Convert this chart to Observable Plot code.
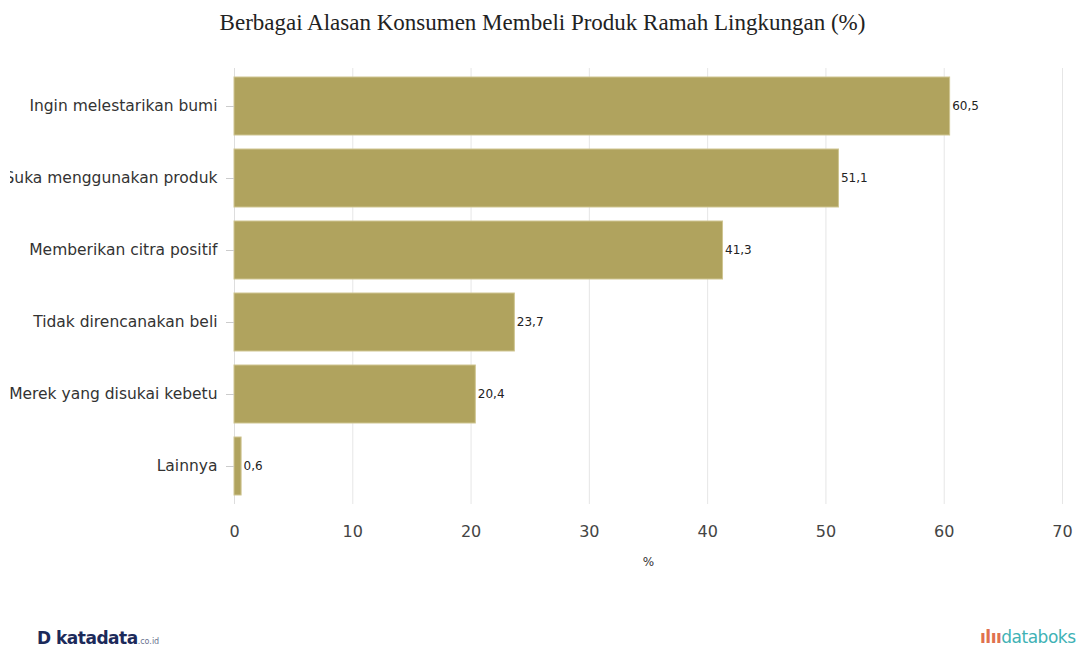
<!DOCTYPE html>
<html><head><meta charset="utf-8">
<script src="https://cdn.jsdelivr.net/npm/d3@7"></script>
<script src="https://cdn.jsdelivr.net/npm/@observablehq/plot@0.6"></script>
<style>
body{margin:0;background:#fff;width:1085px;height:650px;position:relative;overflow:hidden;font-family:"DejaVu Sans",sans-serif;}
#title{position:absolute;top:10px;left:0;width:1085px;text-align:center;font-family:"Liberation Serif",serif;font-size:23px;color:#222;}
#chart{position:absolute;top:48px;left:10px;}
#kata{position:absolute;left:37px;top:628px;font-family:"DejaVu Sans",sans-serif;font-weight:bold;font-size:17px;color:#1c2a5a;letter-spacing:-0.5px;}
#kata small{font-size:8px;font-weight:normal;color:#6a7290;letter-spacing:0;}
#databoks{position:absolute;left:980px;top:627px;font-family:"DejaVu Sans",sans-serif;font-size:17px;color:#3fb2b5;letter-spacing:-0.5px;}
#databoks span{color:#e0714f;font-weight:bold;}
</style></head>
<body>
<div id="title">Berbagai Alasan Konsumen Membeli Produk Ramah Lingkungan (%)</div>
<div id="chart"></div>
<div id="kata">D katadata<small>.co.id</small></div>
<div id="databoks"><span>ılıı</span>databoks</div>
<script>
const categories = ["Ingin melestarikan bumi","Suka menggunakan produk","Memberikan citra positif","Tidak direncanakan beli","Merek yang disukai kebetu","Lainnya"];
const values = [60.5, 51.1, 41.3, 23.7, 20.4, 0.6];
const xTicks = [0,10,20,30,40,50,60,70];

const data = categories.map((c,i)=>({cat:c, val:values[i]}));
const fmt = v => v.toString().replace(".", ",");

const chart = Plot.plot({
  width: 1075,
  height: 540,
  marginLeft: 224,
  marginRight: 23,
  marginTop: 20,
  marginBottom: 84,
  style: {fontFamily: "DejaVu Sans, sans-serif", color: "#333", background: "#fff"},
  x: {domain: [0,70], ticks: xTicks, label: null},
  y: {domain: categories, paddingInner: 0.2, paddingOuter: 0.1, label: null},
  marks: [
    Plot.gridX(xTicks.slice(1), {stroke: "#e6e6e6", strokeOpacity: 1}),
    Plot.ruleX([0], {stroke: "#ddd"}),
    Plot.barX(data, {x: "val", y: "cat", fill: "#b0a35e", stroke: "#cfc591", strokeWidth: 1}),
    Plot.text(data, {x: "val", y: "cat", text: d => fmt(d.val), textAnchor: "start", dx: 2, fontSize: 12, fill: "#222"}),
    Plot.axisY({tickSize: 8, tickPadding: 9, fontSize: 15.5, stroke: "#ccc", color: "#333", label: null}),
    Plot.axisX({ticks: xTicks, tickSize: 0, tickPadding: 21, fontSize: 16, color: "#444", label: null}),
    Plot.text(["%"], {frameAnchor: "bottom", x: 35, dy: 61, fontSize: 12, fill: "#333"})
  ]
});
document.getElementById("chart").appendChild(chart);
</script>
</body></html>
